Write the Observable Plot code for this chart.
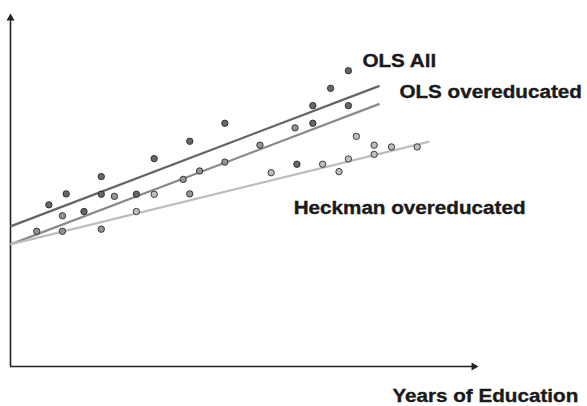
<!DOCTYPE html>
<html>
<head>
<meta charset="utf-8">
<script src="https://cdn.jsdelivr.net/npm/d3@7"></script>
<script src="https://cdn.jsdelivr.net/npm/@observablehq/plot@0.6"></script>
<style>
  html, body { margin: 0; padding: 0; background: #fff; overflow: hidden; }
</style>
</head>
<body>
<div id="chart"></div>
<script>
// Scatter points (arbitrary units: x = years of education, y = earnings)
const pointX = [5.6, 8.2, 11.1, 11.1, 11.9, 15.7, 19.4, 19.4, 19.4, 22.2, 26.9, 26.9, 30.7, 30.7, 36.9, 38.3, 38.3, 40.4, 45.8, 45.8, 53.3, 55.7, 60.8, 61.2, 64.6, 64.6, 66.7, 68.4, 70.2, 72.2, 72.2, 72.2, 73.9, 77.7, 77.7, 81.4, 86.9];
const pointY = [38.3, 45.8, 42.7, 38.3, 48.9, 43.9, 53.8, 48.8, 38.9, 48.2, 48.8, 43.9, 58.9, 48.8, 53.0, 48.9, 63.8, 55.4, 68.9, 57.9, 62.7, 54.9, 67.6, 57.3, 73.9, 68.9, 57.3, 78.8, 55.2, 83.8, 73.9, 58.8, 65.2, 62.7, 60.1, 62.2, 62.2];
const pointGroup = ["over","all","over","over","all","all","all","all","over","over","all","heck","all","heck","over","over","all","over","all","over","over","heck","over","all","all","all","heck","all","heck","all","all","heck","heck","heck","heck","heck","heck"];

// Fitted lines
const lineName = ["all", "over", "heck"];
const lineX1 = [0, 0, 0];
const lineY1 = [39.7, 34.6, 34.6];
const lineX2 = [78.85, 78.85, 89.5];
const lineY2 = [79.5, 74.4, 63.7];

// Labels
const labelText = ["OLS All", "OLS overeducated", "Heckman overeducated", "Years of Education"];
const labelX = [75.2, 83.1, 60.5, 81.6];
const labelY = [84.8, 76.1, 43.1, -10.1];

const groups = ["all", "over", "heck"];
const lineColors = ["#646464", "#8a8a8a", "#bdbdbd"];
const dotColors = ["#666666", "#949494", "#bdbdbd"];

const points = pointX.map((x, i) => ({x, y: pointY[i], g: pointGroup[i]}));
const lines = lineName.map((g, i) => ({g, x1: lineX1[i], y1: lineY1[i], x2: lineX2[i], y2: lineY2[i]}));
const labels = labelText.map((t, i) => ({t, x: labelX[i], y: labelY[i]}));

const lineColor = g => lineColors[groups.indexOf(g)];
const dotColor = g => dotColors[groups.indexOf(g)];

const chart = Plot.plot({
  width: 587,
  height: 406,
  marginLeft: 10,
  marginRight: 109,
  marginTop: 13,
  marginBottom: 40,
  x: {domain: [0, 100], axis: null},
  y: {domain: [0, 100], axis: null},
  style: {fontFamily: "'Liberation Sans', Arial, Helvetica, sans-serif", background: "#fff"},
  marks: [
    // axes
    Plot.ruleY([0], {x1: 0, x2: 99, stroke: "#222", strokeWidth: 1.6}),
    Plot.ruleX([0], {y1: 0, y2: 98.5, stroke: "#222", strokeWidth: 1.6}),
    Plot.dot([{x: 100, y: 0}], {x: "x", y: "y", symbol: "triangle", r: 3, rotate: 90, dx: -4.6, fill: "#222", stroke: "none"}),
    Plot.dot([{x: 0, y: 100}], {x: "x", y: "y", symbol: "triangle", r: 3, rotate: 0, dy: 4.6, fill: "#222", stroke: "none"}),
    // fitted lines
    Plot.link(lines, {x1: "x1", y1: "y1", x2: "x2", y2: "y2", stroke: d => lineColor(d.g), strokeWidth: 2.2}),
    // points
    Plot.dot(points, {x: "x", y: "y", r: 3.2, fill: d => dotColor(d.g), stroke: "#2a2a2a", strokeWidth: 0.9}),
    // labels
    Plot.text(labels, {x: "x", y: "y", text: "t", textAnchor: "start", lineAnchor: "bottom", fontSize: 17.5, fontWeight: "bold", fill: "#1a1a1a", stroke: "#1a1a1a", strokeWidth: 0.35})
  ]
});

document.getElementById("chart").appendChild(chart);

// The reference lettering is horizontally wide; stretch the glyphs to match.
d3.select(chart).selectAll("text").each(function() {
  const len = this.getComputedTextLength();
  this.setAttribute("textLength", (len * 1.18).toFixed(1));
  this.setAttribute("lengthAdjust", "spacingAndGlyphs");
});
</script>
</body>
</html>
